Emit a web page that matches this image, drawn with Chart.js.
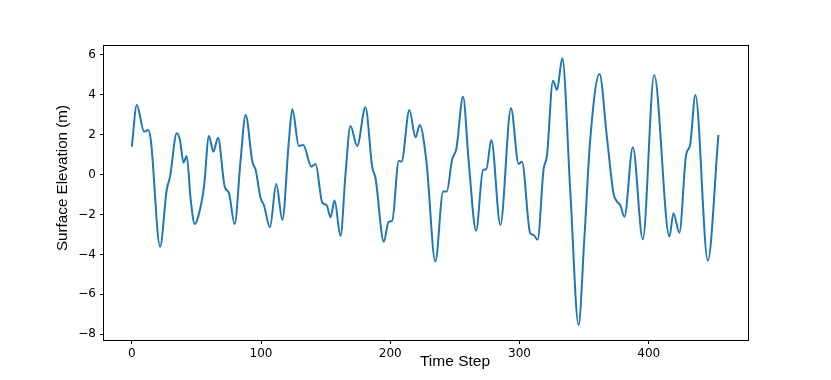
<!DOCTYPE html>
<html>
<head>
<meta charset="utf-8">
<script src="https://cdn.jsdelivr.net/npm/chart.js@4.4.1/dist/chart.umd.min.js"></script>
<style>
  html, body { margin: 0; padding: 0; background: #fff; }
  canvas { display: block; }
</style>
</head>
<body>
<canvas id="chart" width="831" height="380"></canvas>
<script>
// values (peaks, troughs and a few flank points)
var timeSteps = [
    0, 3.9, 9.5, 12.6, 14.7, 21.9, 27.0, 29.6, 34.8, 37.3,
    40.0, 42.5, 45.6, 48.7, 53.3, 55.9, 59.7, 63.1, 66.7, 71.9,
    75.2, 79.6, 84.2, 88.1, 93.3, 95.8, 99.7, 102.2, 106.9, 111.8,
    116.5, 121.6, 124.2, 129.3, 132.7, 138.9, 142.2, 147.4, 150.7, 153.8,
    156.9, 161.5, 165.4, 169.2, 174.4, 180.8, 186.0, 188.6, 195.0, 198.8,
    201.5, 206.6, 208.7, 214.8, 219.5, 222.8, 228.0, 234.9, 240.9, 243.7,
    247.8, 251.2, 256.3, 260.7, 266.4, 271.8, 274.3, 278.2, 285.2, 293.4,
    299.3, 301.9, 308.3, 310.9, 314.0, 318.6, 321.3, 325.9, 329.0, 333.1,
    339.3, 345.7, 350.1, 354.7, 361.9, 367.6, 372.7, 375.8, 377.9, 381.2,
    387.7, 395.4, 404.2, 416.0, 419.1, 423.7, 428.9, 432.0, 436.1, 445.7,
    453.9
];
var elevation = [
    1.40, 3.49, 2.16, 2.24, 1.74, -3.61, -0.77, -0.10, 2.08, 1.74,
    0.60, 0.94, -1.27, -2.47, -1.60, -0.60, 1.94, 1.15, 1.85, -0.60,
    -0.93, -2.47, 0.74, 2.99, 0.65, 0.24, -1.18, -1.52, -2.64, -0.47,
    -2.27, 1.74, 3.28, 1.44, 1.49, 0.40, 0.54, -1.40, -1.52, -2.14,
    -1.30, -3.07, 0.07, 2.44, 1.44, 3.38, 0.40, -0.18, -3.36, -2.36,
    -2.31, 0.70, 0.65, 3.24, 1.87, 2.49, 0.65, -4.36, -0.85, -0.85,
    0.74, 1.32, 3.91, 0.65, -2.81, 0.24, 0.27, 1.74, -2.52, 3.33,
    0.54, 0.65, -2.94, -3.02, -3.27, 0.24, 0.99, 4.71, 4.25, 5.83,
    -0.85, -7.53, -3.27, 1.74, 5.05, 1.90, -0.93, -1.38, -1.52, -2.11,
    1.37, -3.24, 5.00, -3.11, -1.93, -2.91, 0.99, 1.49, 3.99, -4.31,
    1.99
];
var xTickValues = [0, 100, 200, 300, 400];
var yTickValues = [-8, -6, -4, -2, 0, 2, 4, 6];
var xTitle = 'Time Step';
var yTitle = 'Surface Elevation (m)';

var points = timeSteps.map(function (t, i) {
    return { x: t, y: elevation[i] };
});

function fixedTicks(values) {
    return function (scale) {
        scale.ticks = values.map(function (v) { return { value: v }; });
    };
}

function minusLabel(v) {
    return v < 0 ? '\u2212' + Math.abs(v) : String(v);
}

var tickFont = { family: 'DejaVu Sans', size: 12 };

// axes frame + the two axis titles, placed like the reference
var framePlugin = {
    id: 'frame',
    afterDraw: function (chart) {
        var ctx = chart.ctx, a = chart.chartArea;
        ctx.save();
        ctx.strokeStyle = '#000';
        ctx.lineWidth = 1;
        ctx.strokeRect(Math.round(a.left) - 0.5, Math.round(a.top) + 0.5,
            Math.round(a.right - a.left) + 1, Math.round(a.bottom - a.top));

        ctx.fillStyle = '#000';
        ctx.font = '15.5px "Liberation Sans"';
        ctx.textAlign = 'center';
        ctx.textBaseline = 'alphabetic';
        ctx.fillText(xTitle, 455, 365.5);

        ctx.font = '15.2px "Liberation Sans"';
        ctx.translate(66.5, 178);
        ctx.rotate(-Math.PI / 2);
        ctx.fillText(yTitle, 0, 0);
        ctx.restore();
    }
};

new Chart(document.getElementById('chart'), {
    type: 'line',
    data: {
        datasets: [{
            data: points,
            borderColor: '#1f77b4',
            borderWidth: 2,
            pointRadius: 0,
            fill: false,
            cubicInterpolationMode: 'monotone'
        }]
    },
    options: {
        responsive: false,
        animation: false,
        devicePixelRatio: 1,
        layout: { padding: { top: 45, right: 83, left: 0, bottom: 0 } },
        plugins: { legend: { display: false }, tooltip: { enabled: false } },
        scales: {
            x: {
                type: 'linear',
                min: -21.5,
                max: 476.8,
                afterFit: function (scale) { scale.height = 40; },
                afterBuildTicks: fixedTicks(xTickValues),
                border: { display: false },
                grid: { drawOnChartArea: false, drawTicks: true, tickLength: 4, color: '#000' },
                ticks: { font: tickFont, color: '#000', padding: 3, maxRotation: 0, callback: minusLabel }
            },
            y: {
                type: 'linear',
                min: -8.29,
                max: 6.5,
                afterFit: function (scale) { scale.width = 104; },
                afterBuildTicks: fixedTicks(yTickValues),
                border: { display: false },
                grid: { drawOnChartArea: false, drawTicks: true, tickLength: 4, color: '#000' },
                ticks: { font: tickFont, color: '#000', padding: 4, callback: minusLabel }
            }
        }
    },
    plugins: [framePlugin]
});
</script>
</body>
</html>
